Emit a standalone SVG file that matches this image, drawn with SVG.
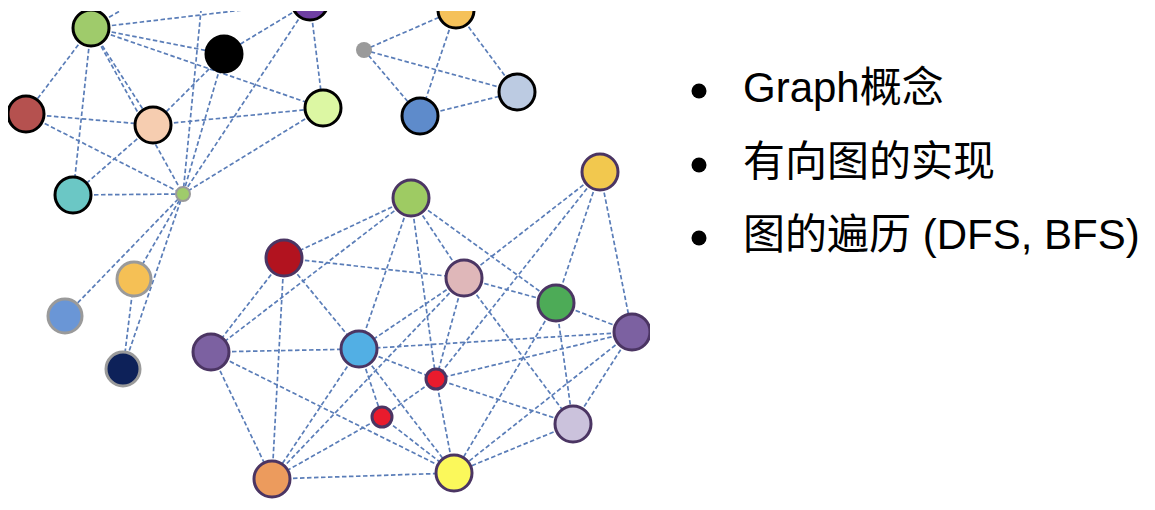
<svg xmlns="http://www.w3.org/2000/svg" width="1155" height="510" viewBox="0 0 1155 510">
<style>
.e{stroke:#5a7db8;stroke-width:1.7;stroke-dasharray:4.5 2.5;fill:none}
.k{stroke:#000;stroke-width:3}
.g{stroke:#9a9a9a;stroke-width:3}
.p{stroke:#4b3563;stroke-width:3}
.t{font-family:"Liberation Sans","Noto Sans CJK SC",sans-serif;font-size:42px;fill:#000}
</style>
<defs>
<clipPath id="pic"><rect x="8" y="11" width="642" height="495"/></clipPath>
</defs>
<rect width="1155" height="510" fill="#fff"/>
<g clip-path="url(#pic)">
<g id="connectors">
<line class="e" x1="91" y1="28" x2="310" y2="2"/>
<line class="e" x1="91" y1="28" x2="224" y2="54"/>
<line class="e" x1="91" y1="28" x2="323" y2="108"/>
<line class="e" x1="91" y1="28" x2="153" y2="125"/>
<line class="e" x1="91" y1="28" x2="183" y2="194"/>
<line class="e" x1="91" y1="28" x2="26" y2="114"/>
<line class="e" x1="91" y1="28" x2="73" y2="195"/>
<line class="e" x1="91" y1="28" x2="135" y2="2"/>
<line class="e" x1="310" y1="2" x2="224" y2="54"/>
<line class="e" x1="310" y1="2" x2="323" y2="108"/>
<line class="e" x1="310" y1="2" x2="183" y2="194"/>
<line class="e" x1="224" y1="54" x2="153" y2="125"/>
<line class="e" x1="224" y1="54" x2="183" y2="194"/>
<line class="e" x1="26" y1="114" x2="153" y2="125"/>
<line class="e" x1="26" y1="114" x2="183" y2="194"/>
<line class="e" x1="153" y1="125" x2="323" y2="108"/>
<line class="e" x1="153" y1="125" x2="73" y2="195"/>
<line class="e" x1="323" y1="108" x2="183" y2="194"/>
<line class="e" x1="73" y1="195" x2="183" y2="194"/>
<line class="e" x1="183" y1="194" x2="202" y2="0"/>
<line class="e" x1="183" y1="194" x2="134" y2="279"/>
<line class="e" x1="183" y1="194" x2="65" y2="316"/>
<line class="e" x1="183" y1="194" x2="123" y2="369"/>
<line class="e" x1="134" y1="279" x2="123" y2="369"/>
<line class="e" x1="364" y1="50" x2="456" y2="10"/>
<line class="e" x1="364" y1="50" x2="517" y2="92"/>
<line class="e" x1="364" y1="50" x2="420" y2="116"/>
<line class="e" x1="456" y1="10" x2="420" y2="116"/>
<line class="e" x1="456" y1="10" x2="517" y2="92"/>
<line class="e" x1="420" y1="116" x2="517" y2="92"/>
<line class="e" x1="411" y1="198" x2="284" y2="258"/>
<line class="e" x1="411" y1="198" x2="211" y2="352"/>
<line class="e" x1="411" y1="198" x2="359" y2="349"/>
<line class="e" x1="411" y1="198" x2="436" y2="379"/>
<line class="e" x1="411" y1="198" x2="464" y2="278"/>
<line class="e" x1="411" y1="198" x2="556" y2="303"/>
<line class="e" x1="600" y1="172" x2="464" y2="278"/>
<line class="e" x1="600" y1="172" x2="436" y2="379"/>
<line class="e" x1="600" y1="172" x2="556" y2="303"/>
<line class="e" x1="600" y1="172" x2="632" y2="332"/>
<line class="e" x1="284" y1="258" x2="464" y2="278"/>
<line class="e" x1="284" y1="258" x2="211" y2="352"/>
<line class="e" x1="284" y1="258" x2="272" y2="479"/>
<line class="e" x1="284" y1="258" x2="359" y2="349"/>
<line class="e" x1="464" y1="278" x2="359" y2="349"/>
<line class="e" x1="464" y1="278" x2="272" y2="479"/>
<line class="e" x1="464" y1="278" x2="436" y2="379"/>
<line class="e" x1="464" y1="278" x2="573" y2="424"/>
<line class="e" x1="464" y1="278" x2="556" y2="303"/>
<line class="e" x1="556" y1="303" x2="632" y2="332"/>
<line class="e" x1="556" y1="303" x2="573" y2="424"/>
<line class="e" x1="556" y1="303" x2="454" y2="473"/>
<line class="e" x1="632" y1="332" x2="359" y2="349"/>
<line class="e" x1="632" y1="332" x2="436" y2="379"/>
<line class="e" x1="632" y1="332" x2="573" y2="424"/>
<line class="e" x1="632" y1="332" x2="454" y2="473"/>
<line class="e" x1="211" y1="352" x2="359" y2="349"/>
<line class="e" x1="211" y1="352" x2="454" y2="473"/>
<line class="e" x1="211" y1="352" x2="272" y2="479"/>
<line class="e" x1="359" y1="349" x2="436" y2="379"/>
<line class="e" x1="359" y1="349" x2="382" y2="417"/>
<line class="e" x1="359" y1="349" x2="454" y2="473"/>
<line class="e" x1="359" y1="349" x2="272" y2="479"/>
<line class="e" x1="436" y1="379" x2="573" y2="424"/>
<line class="e" x1="436" y1="379" x2="454" y2="473"/>
<line class="e" x1="436" y1="379" x2="382" y2="417"/>
<line class="e" x1="382" y1="417" x2="272" y2="479"/>
<line class="e" x1="382" y1="417" x2="454" y2="473"/>
<line class="e" x1="573" y1="424" x2="454" y2="473"/>
<line class="e" x1="272" y1="479" x2="454" y2="473"/>
</g>
<g id="n-green-a"><circle class="k" cx="91" cy="28" r="18" fill="#9fcb6b"/></g>
<g id="n-purple-top"><circle class="k" cx="310" cy="2" r="18" fill="#6f3fa3"/></g>
<g id="n-black"><circle class="k" cx="224" cy="54" r="18" fill="#000"/></g>
<g id="n-brick"><circle class="k" cx="26" cy="114" r="18" fill="#b5514f"/></g>
<g id="n-peach"><circle class="k" cx="153" cy="125" r="18" fill="#f6cdb0"/></g>
<g id="n-lime"><circle class="k" cx="323" cy="108" r="18" fill="#dcf7a3"/></g>
<g id="n-teal"><circle class="k" cx="73" cy="195" r="18" fill="#6bc7c5"/></g>
<g id="n-small-green"><circle cx="183" cy="194" r="7" fill="#9fcb6b" stroke="#9a9a9a" stroke-width="2"/></g>
<g id="n-gold"><circle class="g" cx="134" cy="279" r="17" fill="#f5c055"/></g>
<g id="n-blue-left"><circle class="g" cx="65" cy="316" r="17" fill="#6a96d6"/></g>
<g id="n-navy"><circle class="g" cx="123" cy="369" r="17" fill="#0d2159"/></g>
<g id="n-gray-small"><circle cx="364" cy="50" r="8" fill="#9a9a9a"/></g>
<g id="n-yellow-top"><circle class="k" cx="456" cy="10" r="18" fill="#f5c15a"/></g>
<g id="n-pale-blue"><circle class="k" cx="517" cy="92" r="18" fill="#bccbe2"/></g>
<g id="n-mid-blue"><circle class="k" cx="420" cy="116" r="18" fill="#5e8bcb"/></g>
<g id="n-green-b"><circle class="p" cx="411" cy="198" r="18" fill="#9ecb63"/></g>
<g id="n-yellow-b"><circle class="p" cx="600" cy="172" r="18" fill="#f2c84e"/></g>
<g id="n-red"><circle class="p" cx="284" cy="258" r="18" fill="#b2131f"/></g>
<g id="n-pink"><circle class="p" cx="464" cy="278" r="18" fill="#dfb7b9"/></g>
<g id="n-dark-green"><circle class="p" cx="556" cy="303" r="18" fill="#4dab57"/></g>
<g id="n-purple-right"><circle class="p" cx="632" cy="332" r="18" fill="#7c61a1"/></g>
<g id="n-purple-left"><circle class="p" cx="211" cy="352" r="18" fill="#7c61a1"/></g>
<g id="n-sky"><circle class="p" cx="359" cy="349" r="18" fill="#52afe4"/></g>
<g id="n-red-small-1"><circle class="p" cx="436" cy="379" r="10" fill="#e91b2d"/></g>
<g id="n-red-small-2"><circle class="p" cx="382" cy="417" r="10" fill="#e91b2d"/></g>
<g id="n-lavender"><circle class="p" cx="573" cy="424" r="18" fill="#cbc2dc"/></g>
<g id="n-orange"><circle class="p" cx="272" cy="479" r="18" fill="#ec9b5d"/></g>
<g id="n-yellow"><circle class="p" cx="454" cy="473" r="18" fill="#fbf85b"/></g>
</g>
<g id="bullets">
<circle cx="699" cy="91" r="7.5" fill="#000"/>
<circle cx="699" cy="165" r="7.5" fill="#000"/>
<circle cx="699" cy="238" r="7.5" fill="#000"/>
<text class="t" x="743" y="102">Graph概念</text>
<text class="t" x="743" y="176">有向图的实现</text>
<text class="t" x="743" y="249">图的遍历 (DFS, BFS)</text>
</g>
</svg>
